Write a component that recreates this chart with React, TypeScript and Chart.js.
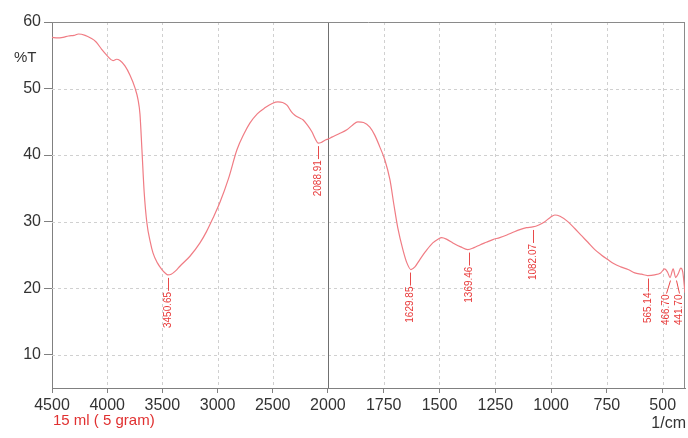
import React, { useEffect, useRef } from "react";
import { Chart, registerables } from "chart.js";

Chart.register(...registerables);

const wavenumbers = [
  4500, 4450, 4400, 4350, 4300, 4260, 4200, 4150, 4100, 4050, 3993, 3947, 3915, 3884, 3839, 3793, 3748, 3720,
  3703, 3685, 3665, 3640, 3610, 3585, 3545, 3504, 3470, 3450, 3420, 3380, 3341, 3250, 3159, 3100, 3042, 2978,
  2900, 2824, 2760, 2707, 2640, 2571, 2500, 2453, 2410, 2371, 2330, 2299, 2260, 2226, 2185, 2145, 2110, 2089,
  2060, 2018, 2000, 1982, 1950, 1915, 1890, 1866, 1840, 1812, 1790, 1767, 1745, 1722, 1704, 1687, 1664, 1646,
  1628, 1610, 1588, 1560, 1530, 1505, 1490, 1465, 1440, 1405, 1373, 1345, 1319, 1290, 1261, 1230, 1198, 1170,
  1140, 1110, 1082, 1055, 1028, 1005, 983, 960, 925, 895, 867, 835, 804, 775, 746, 720, 688, 655, 625, 595, 567,
  536, 509, 491, 478, 467, 453, 442, 430, 419, 410, 400,
];
const transmittance = [
  57.7, 57.6, 57.7, 57.9, 58.0, 58.2, 58.0, 57.6, 57.0, 55.9, 54.8, 54.2, 54.4, 54.2, 53.4, 52.0, 50.1, 48.3,
  46.2, 40.8, 34.5, 29.8, 27.0, 25.3, 23.8, 22.8, 22.2, 22.0, 22.1, 22.6, 23.3, 24.8, 26.8, 28.5, 30.5, 32.9,
  36.5, 40.8, 43.2, 44.8, 46.2, 47.1, 47.8, 48.0, 47.9, 47.5, 46.5, 46.0, 45.6, 45.3, 44.5, 43.5, 42.3, 41.8,
  41.9, 42.3, 42.4, 42.7, 43.2, 43.8, 44.5, 45.0, 44.9, 44.2, 43.0, 41.2, 39.3, 36.3, 32.5, 29.1, 25.8, 23.8,
  22.8, 23.2, 24.3, 25.6, 26.8, 27.4, 27.6, 27.3, 26.8, 26.2, 25.8, 26.1, 26.5, 26.9, 27.3, 27.6, 28.0, 28.4,
  28.8, 29.1, 29.2, 29.5, 30.0, 30.6, 31.0, 30.8, 30.0, 29.0, 28.0, 26.9, 25.8, 25.0, 24.3, 23.7, 23.2, 22.8,
  22.3, 22.1, 21.9, 22.0, 22.3, 22.9, 22.4, 21.6, 22.9, 21.6, 22.2, 23.0, 22.4, 19.3,
];

const xTickValues = [4500, 4000, 3500, 3000, 2500, 2000, 1750, 1500, 1250, 1000, 750, 500];
const xTickLabels = ["4500", "4000", "3500", "3000", "2500", "2000", "1750", "1500", "1250", "1000", "750", "500"];
const yTickValues = [10, 20, 30, 40, 50, 60];

const peakWavenumbers = [3450.65, 2088.91, 1629.85, 1369.46, 1082.07, 565.14, 466.7, 441.7];
const peakTransmittance = [22.0, 41.8, 22.8, 25.8, 29.2, 21.9, 21.6, 21.6];
const peakLabels = ["3450.65", "2088.91", "1629.85", "1369.46", "1082.07", "565.14", "466.70", "441.70"];

const sampleLabel = "15 ml ( 5 gram)";
const yTitle = "%T";
const xUnit = "1/cm";

const X_START = 4500;
const X_BREAK = 2000;
const X_END = 400;

// Shimadzu-style axis: 4500-2000 compressed, 2000-400 expanded
function toAxis(w: number): number {
  return w >= X_BREAK ? (X_START - w) * 0.1104 : (X_START - X_BREAK) * 0.1104 + (X_BREAK - w) * 0.2233;
}

const labelOffsets = [0, 0, 0, 0, 0, 0, -4, 3];

const FONT = "'Liberation Sans', Arial, sans-serif";

const decorPlugin = {
  id: "decor",
  beforeDatasetsDraw(chart: any) {
    const { ctx, chartArea } = chart;
    const xs = chart.scales.x;
    const ys = chart.scales.y;
    ctx.save();
    ctx.lineWidth = 1;
    ctx.strokeStyle = "#d0d0d0";
    ctx.setLineDash([3, 3]);
    xTickValues.forEach((w) => {
      if (w === X_START || w === X_BREAK) return;
      const x = Math.round(xs.getPixelForValue(toAxis(w))) + 0.5;
      ctx.beginPath();
      ctx.moveTo(x, chartArea.top);
      ctx.lineTo(x, chartArea.bottom);
      ctx.stroke();
    });
    yTickValues.forEach((v) => {
      if (v === 60) return;
      const y = Math.round(ys.getPixelForValue(v)) + 0.5;
      ctx.beginPath();
      ctx.moveTo(chartArea.left, y);
      ctx.lineTo(chartArea.right, y);
      ctx.stroke();
    });
    ctx.setLineDash([]);
    ctx.strokeStyle = "#707070";
    const xb = Math.round(xs.getPixelForValue(toAxis(X_BREAK))) + 0.5;
    ctx.beginPath();
    ctx.moveTo(xb, chartArea.top);
    ctx.lineTo(xb, chartArea.bottom);
    ctx.stroke();
    ctx.strokeStyle = "#8a8a8a";
    ctx.beginPath();
    ctx.moveTo(chartArea.left, Math.round(chartArea.top) + 0.5);
    ctx.lineTo(chartArea.right, Math.round(chartArea.top) + 0.5);
    ctx.moveTo(Math.round(chartArea.right) - 0.5, chartArea.top);
    ctx.lineTo(Math.round(chartArea.right) - 0.5, chartArea.bottom);
    ctx.stroke();
    ctx.restore();
  },
  afterDatasetsDraw(chart: any) {
    const { ctx } = chart;
    const xs = chart.scales.x;
    const ys = chart.scales.y;
    ctx.save();
    ctx.strokeStyle = "#e84a4a";
    ctx.fillStyle = "#e83a3a";
    ctx.lineWidth = 1;
    ctx.font = `10px ${FONT}`;
    peakWavenumbers.forEach((w, i) => {
      const px = xs.getPixelForValue(toAxis(w));
      const py = ys.getPixelForValue(peakTransmittance[i]);
      const lx = px + labelOffsets[i];
      const top = py + 16;
      ctx.beginPath();
      ctx.moveTo(Math.round(px) + 0.5, py + 3);
      ctx.lineTo(Math.round(lx) + 0.5, top);
      ctx.stroke();
      ctx.save();
      ctx.translate(Math.round(lx) + 0.5, top + 1);
      ctx.rotate(-Math.PI / 2);
      ctx.textAlign = "right";
      ctx.textBaseline = "middle";
      ctx.fillText(peakLabels[i], 0, 0);
      ctx.restore();
    });
    ctx.restore();
  },
  afterDraw(chart: any) {
    const { ctx } = chart;
    ctx.save();
    ctx.textBaseline = "middle";
    ctx.font = `15px ${FONT}`;
    ctx.fillStyle = "#333333";
    ctx.textAlign = "left";
    ctx.fillText(yTitle, 14, 58);
    ctx.fillStyle = "#e03030";
    ctx.font = `15px ${FONT}`;
    ctx.fillText(sampleLabel, 53, 421);
    ctx.fillStyle = "#333333";
    ctx.font = `16px ${FONT}`;
    ctx.textAlign = "right";
    ctx.fillText(xUnit, 686, 424);
    ctx.restore();
  },
};

export default function App() {
  const canvasRef = useRef<HTMLCanvasElement | null>(null);

  useEffect(() => {
    document.body.style.margin = "0";
    const canvas = canvasRef.current;
    if (!canvas) return;
    const points = wavenumbers.map((w, i) => ({ x: toAxis(w), y: transmittance[i] }));
    const chart = new Chart(canvas, {
      type: "line",
      data: {
        datasets: [
          {
            data: points,
            borderColor: "#f07c84",
            borderWidth: 1.2,
            pointRadius: 0,
            cubicInterpolationMode: "monotone",
            fill: false,
          },
        ],
      },
      options: {
        animation: false,
        responsive: false,
        maintainAspectRatio: false,
        layout: { padding: { top: 22, right: 3, left: 0, bottom: 0 } },
        plugins: { legend: { display: false }, tooltip: { enabled: false } },
        scales: {
          x: {
            type: "linear",
            min: 0,
            max: toAxis(X_END),
            afterBuildTicks: (scale: any) => {
              scale.ticks = xTickValues.map((w) => ({ value: toAxis(w) }));
            },
            afterFit: (scale: any) => {
              scale.height = 50;
            },
            ticks: {
              autoSkip: false,
              maxRotation: 0,
              padding: 3,
              color: "#333333",
              font: { size: 16, family: FONT },
              callback: (_v: any, i: number) => xTickLabels[i],
            },
            grid: { display: true, drawOnChartArea: false, drawTicks: true, tickLength: 5, color: "#808080" },
            border: { display: true, color: "#808080" },
          },
          y: {
            type: "linear",
            min: 5,
            max: 60,
            afterBuildTicks: (scale: any) => {
              scale.ticks = yTickValues.map((v) => ({ value: v }));
            },
            afterFit: (scale: any) => {
              scale.width = 52;
            },
            ticks: {
              autoSkip: false,
              padding: 3,
              color: "#333333",
              font: { size: 16, family: FONT },
            },
            grid: { display: true, drawOnChartArea: false, drawTicks: true, tickLength: 8, color: "#808080" },
            border: { display: true, color: "#808080" },
          },
        },
      },
      plugins: [decorPlugin],
    });
    return () => chart.destroy();
  }, []);

  return (
    <div style={{ width: 688, height: 438, background: "#ffffff" }}>
      <canvas ref={canvasRef} width={688} height={438} style={{ display: "block" }} />
    </div>
  );
}
